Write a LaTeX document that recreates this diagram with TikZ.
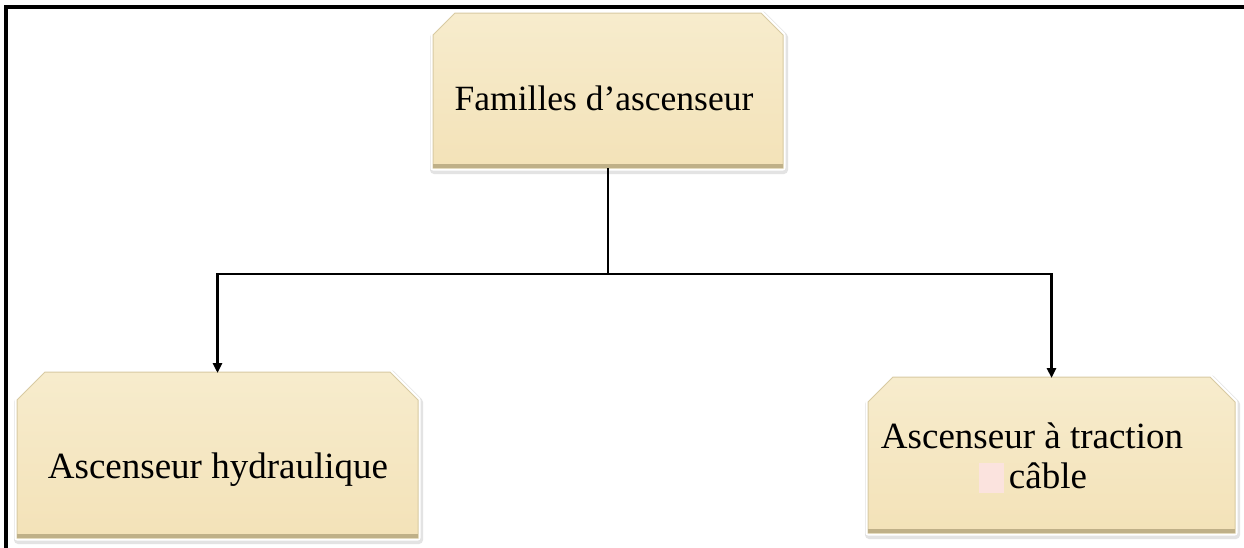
\documentclass[tikz,border=0pt]{standalone}
\usepackage{fontspec}
\setmainfont{Liberation Serif}
\usetikzlibrary{arrows.meta,calc}
\definecolor{beigetop}{HTML}{F7ECCD}
\definecolor{beigebot}{HTML}{F3E2B8}
\definecolor{bevel}{HTML}{BFB088}
\definecolor{edge}{HTML}{D8CAA2}
\definecolor{sqpink}{HTML}{FBE3DE}
\newcommand\chpath[2]{(#1.south west) -- ([yshift=-#2pt]#1.north west) -- ([xshift=#2pt]#1.north west) -- ([xshift=-#2pt]#1.north east) -- ([yshift=-#2pt]#1.north east) -- (#1.south east) -- cycle}
\newcommand\chbox[2]{%
  \draw[gray!22, line width=8pt, line join=round, transform canvas={xshift=1pt,yshift=-2pt}] \chpath{#1}{#2};
  \draw[white, line width=5pt, line join=round] \chpath{#1}{#2};
  \shade[top color=beigetop, bottom color=beigebot] \chpath{#1}{#2};
  \draw[edge, line width=1pt] \chpath{#1}{#2};
  \fill[bevel] ([yshift=4pt]#1.south west) rectangle (#1.south east);
}
\tikzset{
  boxarea/.style={draw=none, inner sep=0pt, outer sep=0pt, rectangle},
  label37/.style={anchor=base, inner sep=0pt, font=\fontsize{37}{40}\selectfont, align=center},
  conn/.style={line width=2.6pt, black},
  arrowconn/.style={conn, -{Triangle[length=10pt,width=9pt]}, shorten >=-1pt}
}
\begin{document}
\begin{tikzpicture}[x=1pt,y=1pt]
\useasboundingbox (0,0) rectangle (1244,-547);
\fill[white] (0,0) rectangle (1244,-547);
% frame
\draw[line width=3.5pt, black] (6,-548) -- (6,-7) -- (1244,-7);
% box areas
\node[boxarea, minimum width=350pt, minimum height=155pt] (top) at (608,-90.5) {};
\node[boxarea, minimum width=401pt, minimum height=166pt] (left) at (217.5,-455) {};
\node[boxarea, minimum width=367pt, minimum height=156pt] (right) at (1051.5,-455) {};
\chbox{top}{22}
\chbox{left}{28}
\chbox{right}{25}
% texts
\node[label37, font=\fontsize{35.5}{40}\selectfont] (toptext) at (604,-110) {Familles d’ascenseur};
\node[label37] (lefttext) at (218,-478) {Ascenseur hydraulique};
\node[label37] (righttext1) at (1032,-448) {Ascenseur à traction};
\node[label37] (righttext2) at (1033,-488) {{\color{sqpink}\rule[-5pt]{25pt}{30pt}}\hspace{5pt}câble};
% connectors
\coordinate (junction) at ($(top.south)+(0,-106)$);
\draw[conn] (top.south) -- (junction);
\draw[arrowconn] (junction) -| (left.north);
\draw[arrowconn] (junction) -| (right.north);
\end{tikzpicture}
\end{document}
